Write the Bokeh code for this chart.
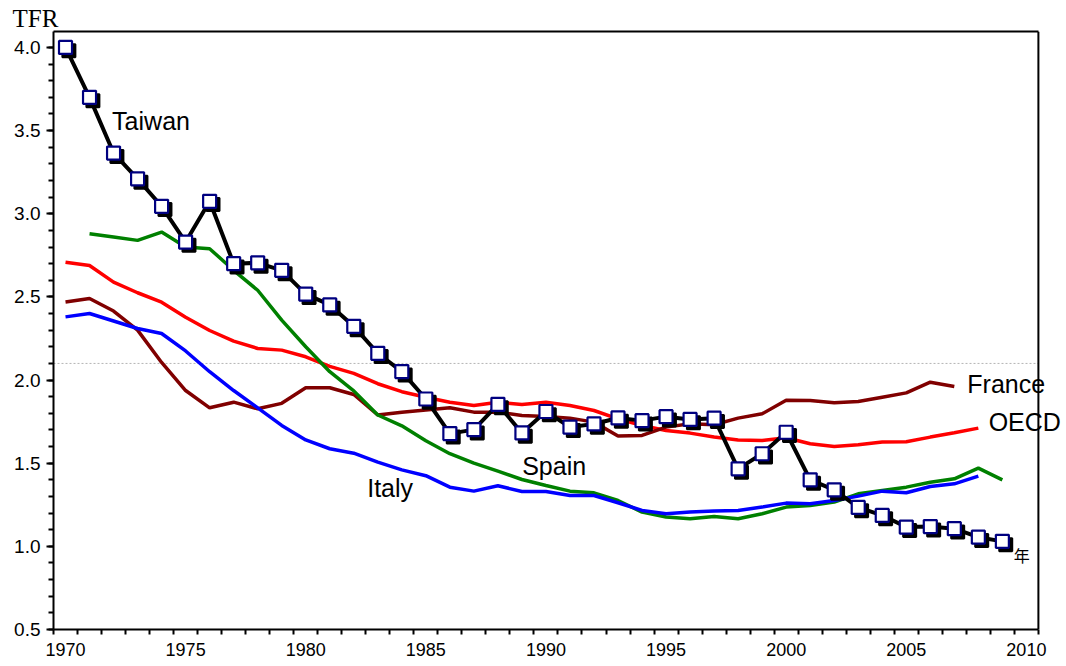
from bokeh.plotting import figure
from bokeh.models import Range1d, FixedTicker, Span, Label, ColumnDataSource, LinearAxis
from bokeh.transform import dodge
from bokeh.embed import file_html
from bokeh.resources import INLINE
import numpy as np

# ---------------- data ----------------
taiwan_years = list(range(1970, 2010))
taiwan = [4.00, 3.70, 3.365, 3.21, 3.045, 2.83, 3.075, 2.70, 2.705, 2.66,
          2.517, 2.452, 2.323, 2.161, 2.051, 1.886, 1.678, 1.702, 1.854, 1.682,
          1.811, 1.717, 1.736, 1.772, 1.756, 1.780, 1.763, 1.771, 1.466, 1.557,
          1.686, 1.400, 1.340, 1.234, 1.186, 1.116, 1.119, 1.106, 1.055, 1.030]

spain_years = list(range(1971, 2010))
spain = [2.88, 2.86, 2.84, 2.89, 2.80, 2.79, 2.66, 2.54, 2.36, 2.20,
         2.05, 1.935, 1.79, 1.725, 1.635, 1.557, 1.50, 1.452, 1.402, 1.366,
         1.332, 1.322, 1.276, 1.206, 1.176, 1.166, 1.18, 1.166, 1.196, 1.236,
         1.246, 1.266, 1.316, 1.336, 1.356, 1.386, 1.406, 1.47, 1.40]

italy_years = list(range(1970, 2009))
italy = [2.38, 2.40, 2.355, 2.31, 2.28, 2.175, 2.05, 1.937, 1.833, 1.727,
         1.64, 1.587, 1.56, 1.506, 1.46, 1.425, 1.356, 1.332, 1.364, 1.33,
         1.33, 1.306, 1.306, 1.262, 1.216, 1.196, 1.206, 1.212, 1.216, 1.236,
         1.26, 1.256, 1.276, 1.302, 1.332, 1.322, 1.36, 1.376, 1.422]

france_years = list(range(1970, 2008))
france = [2.47, 2.49, 2.415, 2.30, 2.106, 1.937, 1.833, 1.867, 1.827, 1.86,
          1.954, 1.954, 1.913, 1.79, 1.807, 1.82, 1.833, 1.807, 1.807, 1.787,
          1.781, 1.771, 1.747, 1.663, 1.667, 1.717, 1.737, 1.731, 1.771, 1.797,
          1.879, 1.877, 1.863, 1.871, 1.897, 1.923, 1.987, 1.961]

oecd_years = list(range(1970, 2009))
oecd = [2.709, 2.689, 2.589, 2.525, 2.468, 2.378, 2.298, 2.234, 2.19, 2.18,
        2.14, 2.082, 2.04, 1.978, 1.93, 1.897, 1.867, 1.847, 1.867, 1.853,
        1.867, 1.847, 1.817, 1.767, 1.727, 1.697, 1.681, 1.657, 1.64, 1.637,
        1.653, 1.617, 1.601, 1.611, 1.627, 1.629, 1.657, 1.683, 1.711]

replacement_level = 2.1

x_tick_labels = [1970, 1975, 1980, 1985, 1990, 1995, 2000, 2005, 2010]
y_tick_labels = [0.5, 1.0, 1.5, 2.0, 2.5, 3.0, 3.5, 4.0]

# axis box (the frame is wider so that the end labels can overhang the border)
x_lo, x_hi = 1969.5, 2010.5
y_lo, y_hi = 0.5, 4.096

# ---------------- figure ----------------
p = figure(frame_width=1013, frame_height=598,
           min_border_left=53, min_border_right=0,
           min_border_top=31, min_border_bottom=30,
           x_range=Range1d(x_lo, 2011.67), y_range=Range1d(y_lo, y_hi),
           output_backend="svg", toolbar_location=None,
           background_fill_color="white", border_fill_color="white")

p.xgrid.visible = False
p.ygrid.visible = False
p.outline_line_color = None

# title "TFR" at the top left
p.title.text = "TFR"
p.title.text_font = "Liberation Serif"
p.title.text_font_size = "25px"
p.title.text_font_style = "normal"
p.title.text_color = "black"
p.title.align = "left"
p.title.offset = -41
p.title.standoff = 0

# x axis: labels at years, ticks at year boundaries
p.xaxis.bounds = (x_lo, x_hi)
p.xaxis.ticker = FixedTicker(ticks=x_tick_labels,
                             minor_ticks=list(np.arange(x_lo, x_hi + 0.5, 1.0)))
p.xaxis.major_tick_line_color = None
p.xaxis.major_tick_out = 0
p.xaxis.major_tick_in = 0
p.xaxis.minor_tick_out = 5
p.xaxis.minor_tick_in = 0
p.xaxis.minor_tick_line_width = 2
p.xaxis.minor_tick_line_color = "black"
p.xaxis.major_label_standoff = 8
p.xaxis.major_label_text_font_size = "18px"

# y axis
p.yaxis.bounds = (y_lo, y_hi)
p.yaxis.ticker = FixedTicker(ticks=y_tick_labels,
                             minor_ticks=list(np.round(np.arange(0.5, 4.05, 0.1), 2)))
p.yaxis.major_label_overrides = {v: f"{v:.1f}" for v in y_tick_labels}
p.yaxis.major_tick_out = 7
p.yaxis.major_tick_in = 0
p.yaxis.minor_tick_out = 5
p.yaxis.minor_tick_in = 0
p.yaxis.major_tick_line_width = 2
p.yaxis.minor_tick_line_width = 2
p.yaxis.major_label_standoff = 6
p.yaxis.major_label_text_font_size = "19px"

for ax in (p.xaxis, p.yaxis):
    ax.axis_line_width = 2
    ax.axis_line_color = "black"
    ax.major_label_text_font = "Liberation Sans"
    ax.major_label_text_color = "black"

# top border of the axis box: an unlabelled axis limited to the box
top = LinearAxis(ticker=FixedTicker(ticks=[]), bounds=(x_lo, x_hi),
                 axis_line_width=2, axis_line_color="black",
                 major_tick_out=0, major_tick_in=0, minor_tick_out=0, minor_tick_in=0,
                 major_label_standoff=0)
p.add_layout(top, "above")

# right border of the axis box
p.add_layout(Span(location=x_hi, dimension="height",
                  line_color="black", line_width=2))

# replacement level (dashed, inside the box only)
p.segment(x0=[x_lo], x1=[x_hi], y0=[replacement_level], y1=[replacement_level],
          line_color="#b4b4b4", line_width=1, line_dash="2 2")

# series
p.line(oecd_years, oecd, line_color="#ff0000", line_width=3.5)
p.line(france_years, france, line_color="#800000", line_width=3.5)
p.line(spain_years, spain, line_color="#008000", line_width=3.5)
p.line(italy_years, italy, line_color="#0000ff", line_width=3.5)

tw = ColumnDataSource(dict(x=taiwan_years, y=taiwan))
p.line("x", "y", source=tw, line_color="black", line_width=4)
p.scatter(x=dodge("x", 0.14, range=p.x_range), y=dodge("y", -0.02, range=p.y_range),
          source=tw, marker="square", size=13, fill_color="black", line_color="black",
          line_width=2)
p.scatter("x", "y", source=tw, marker="square", size=13, fill_color="white",
          line_color="#000080", line_width=2.2)

# labels
lab_font = "Liberation Sans"
def add_label(text, x, y, size="25px", font=lab_font):
    p.add_layout(Label(x=x, y=y, text=text, text_font=font, text_font_size=size,
                       text_color="black", text_align="left",
                       text_baseline="alphabetic"))

add_label("Taiwan", 1971.94, 3.559)
add_label("Spain", 1989.01, 1.486)
add_label("Italy", 1982.56, 1.350)
add_label("France", 2007.54, 1.978)
add_label("OECD", 2008.43, 1.745)
add_label("年", 2009.47, 0.945, size="16px", font="Noto Sans CJK JP")

open("out.html", "w").write(file_html(p, INLINE))
